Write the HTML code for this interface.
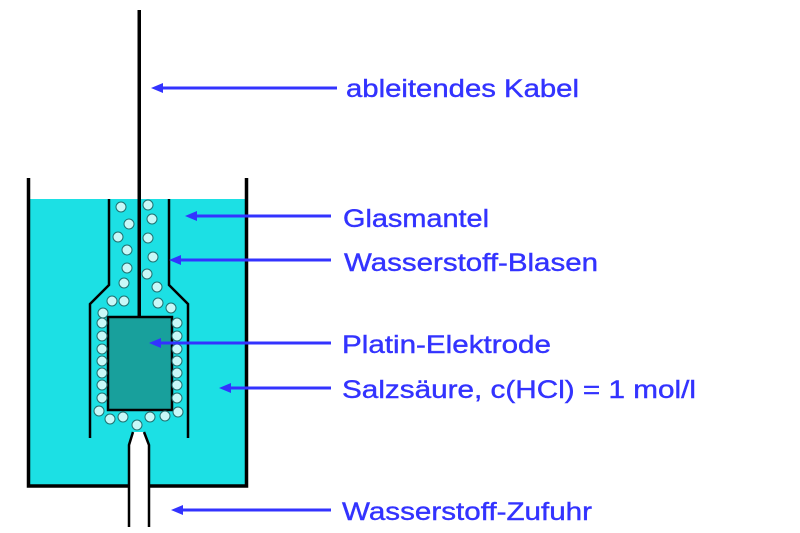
<!DOCTYPE html>
<html><head><meta charset="utf-8"><style>
html,body{margin:0;padding:0;background:#fff;}
svg{display:block;}
text{font-family:"Liberation Sans",Arial,sans-serif;font-size:25px;fill:#3333ff;stroke:#3333ff;stroke-width:0.4;}
</style></head><body>
<svg width="800" height="533" viewBox="0 0 800 533" xmlns="http://www.w3.org/2000/svg">
<rect x="28" y="199" width="219" height="287" fill="#1ce0e4"/>
<path d="M28.5 178 V486 H246.5 V178" fill="none" stroke="#000" stroke-width="3.5"/>
<path d="M109 199 V285 L90 304 V438" fill="none" stroke="#000" stroke-width="2.5"/>
<path d="M169 199 V285 L188 304 V438" fill="none" stroke="#000" stroke-width="2.5"/>
<path d="M129 527 V445 L133 432 H144 L149 445 V527 Z" fill="#fff"/>
<path d="M129 527 V445 L133 432 M144 432 L149 445 V527" fill="none" stroke="#000" stroke-width="2.5"/>
<rect x="137.5" y="10" width="3.5" height="308" fill="#000"/>
<rect x="108" y="317" width="64" height="93" fill="#18a09c" stroke="#000" stroke-width="2.5"/>
<g fill="#c8f8f8" stroke="#207070" stroke-width="1">
<circle cx="121" cy="207" r="5"/><circle cx="148" cy="205" r="5"/><circle cx="129" cy="224" r="5"/><circle cx="152" cy="219" r="5"/>
<circle cx="118" cy="237" r="5"/><circle cx="148" cy="238" r="5"/><circle cx="127" cy="250" r="5"/><circle cx="153" cy="257" r="5"/>
<circle cx="127" cy="268" r="5"/><circle cx="147" cy="274" r="5"/><circle cx="124" cy="283" r="5"/><circle cx="157" cy="287" r="5"/>
<circle cx="112" cy="301" r="5"/><circle cx="124" cy="301" r="5"/><circle cx="158" cy="303" r="5"/><circle cx="171" cy="308" r="5"/>
<circle cx="103" cy="313" r="5"/>
<circle cx="102" cy="323" r="5"/><circle cx="102" cy="336" r="5"/><circle cx="102" cy="349" r="5"/><circle cx="102" cy="361" r="5"/><circle cx="102" cy="373" r="5"/><circle cx="102" cy="385" r="5"/><circle cx="102" cy="398" r="5"/>
<circle cx="177" cy="323" r="5"/><circle cx="177" cy="336" r="5"/><circle cx="177" cy="349" r="5"/><circle cx="177" cy="361" r="5"/><circle cx="177" cy="373" r="5"/><circle cx="177" cy="385" r="5"/><circle cx="177" cy="398" r="5"/>
<circle cx="99" cy="411" r="5"/><circle cx="110" cy="419" r="5"/><circle cx="123" cy="417" r="5"/><circle cx="137" cy="425" r="5"/><circle cx="150" cy="417" r="5"/><circle cx="165" cy="416" r="5"/><circle cx="178" cy="412" r="5"/>
</g>
<g stroke="#3333ff" stroke-width="3" fill="#3333ff">
<line x1="160" y1="88" x2="337" y2="88"/><path d="M151 88 L163 83 L163 93 Z" stroke="none"/>
<line x1="194" y1="216" x2="331" y2="216"/><path d="M185 216 L197 211 L197 221 Z" stroke="none"/>
<line x1="178" y1="260" x2="331" y2="260"/><path d="M169 260 L181 255 L181 265 Z" stroke="none"/>
<line x1="158" y1="343" x2="331" y2="343"/><path d="M149 343 L161 338 L161 348 Z" stroke="none"/>
<line x1="228" y1="388" x2="331" y2="388"/><path d="M219 388 L231 383 L231 393 Z" stroke="none"/>
<line x1="180" y1="510" x2="331" y2="510"/><path d="M171 510 L183 505 L183 515 Z" stroke="none"/>
</g>
<text x="346" y="97" textLength="233" lengthAdjust="spacingAndGlyphs">ableitendes Kabel</text>
<text x="343" y="227" textLength="146" lengthAdjust="spacingAndGlyphs">Glasmantel</text>
<text x="344" y="271" textLength="254" lengthAdjust="spacingAndGlyphs">Wasserstoff-Blasen</text>
<text x="342" y="353" textLength="209" lengthAdjust="spacingAndGlyphs">Platin-Elektrode</text>
<text x="342" y="398" textLength="354" lengthAdjust="spacingAndGlyphs">Salzsäure, c(HCl) = 1 mol/l</text>
<text x="342" y="520" textLength="250" lengthAdjust="spacingAndGlyphs">Wasserstoff-Zufuhr</text>
</svg>
</body></html>
